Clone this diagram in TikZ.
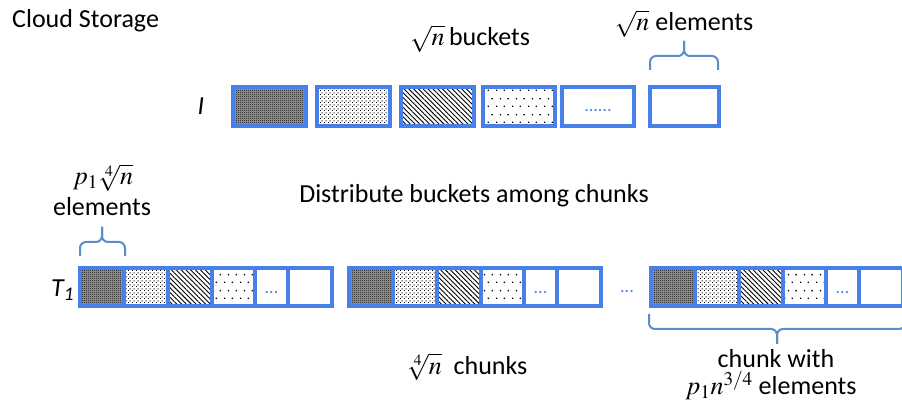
\documentclass[tikz,border=0pt]{standalone}
\usepackage{mathptmx}
\usepackage[no-math]{fontspec}
\setmainfont{Carlito}
\usetikzlibrary{patterns,patterns.meta}
\definecolor{boxblue}{RGB}{72,128,234}
\definecolor{braceblue}{RGB}{91,141,201}
\tikzdeclarepattern{
  name=checker,
  type=uncolored,
  bounding box={(0,0) and (2pt,2pt)},
  tile size={(2pt,2pt)},
  code={
    \pgfpathrectangle{\pgfpointorigin}{\pgfpoint{1pt}{1pt}}
    \pgfpathrectangle{\pgfpoint{1pt}{1pt}}{\pgfpoint{1pt}{1pt}}
    \pgfusepath{fill}
  }
}
\tikzdeclarepattern{
  name=finedots,
  type=uncolored,
  bounding box={(0,0) and (4pt,4pt)},
  tile size={(4pt,4pt)},
  code={
    \pgfpathrectangle{\pgfpointorigin}{\pgfpoint{1.2pt}{1.2pt}}
    \pgfpathrectangle{\pgfpoint{2pt}{2pt}}{\pgfpoint{1.2pt}{1.2pt}}
    \pgfusepath{fill}
  }
}
\tikzdeclarepattern{
  name=sparsedots,
  type=uncolored,
  bounding box={(0,0) and (16pt,16pt)},
  tile size={(16pt,16pt)},
  code={
    \pgfpathrectangle{\pgfpointorigin}{\pgfpoint{1.4pt}{1.4pt}}
    \pgfpathrectangle{\pgfpoint{8pt}{0pt}}{\pgfpoint{1.4pt}{1.4pt}}
    \pgfpathrectangle{\pgfpoint{4pt}{8pt}}{\pgfpoint{1.4pt}{1.4pt}}
    \pgfpathrectangle{\pgfpoint{12pt}{8pt}}{\pgfpoint{1.4pt}{1.4pt}}
    \pgfusepath{fill}
  }
}
\tikzset{
  txt/.style={font=\fontsize{26}{31}\selectfont, inner sep=0pt, text=black},
  cell/.style={draw=boxblue, line width=3.3pt},
  pdark/.style={cell, preaction={fill=black!38}, pattern=checker, pattern color=black},
  pfine/.style={cell, preaction={fill=white}, pattern=finedots, pattern color=black},
  plines/.style={cell, preaction={fill=white}, pattern={Lines[angle=-45,distance=3.4pt,line width=0.9pt]}, pattern color=black},
  psparse/.style={cell, preaction={fill=white}, pattern=sparsedots, pattern color=black},
  pblank/.style={cell, fill=white},
  bluedots/.style={font=\fontsize{18}{20}\selectfont, text=boxblue, inner sep=0pt},
  bracestyle/.style={draw=braceblue, line width=2pt, rounded corners=6pt}
}
\begin{document}
\begin{tikzpicture}[x=1pt,y=-1pt]
\useasboundingbox (0,0) rectangle (902,411);
\fill[white] (0,0) rectangle (902,411);

% texts
\node[txt, anchor=base west] (cloud) at (12,28) {Cloud Storage};
\node[txt, anchor=base] (buckets) at (470,46) {$\sqrt{n}$\,buckets};
\node[txt, anchor=base] (elemtop) at (684,31) {$\sqrt{n}$ elements};
\node[txt, anchor=base] (I) at (201,115) {\itshape I};
\node[txt, anchor=base] (distr) at (474,203) {Distribute buckets among chunks};
\node[txt, anchor=base] (p1) at (103,185) {$p_1\sqrt[4]{n}$};
\node[txt, anchor=base] (elemleft) at (102,216) {elements};
\node[txt, anchor=base west] (T1) at (51,297) {\itshape T\textsubscript{1}};
\node[txt, anchor=base] (chunks) at (467,374) {$\sqrt[4]{n}$\ \ chunks};
\node[txt, anchor=base] (chunkwith) at (776,368) {chunk with};
\node[txt, anchor=base] (pn) at (771,395) {$p_1n^{3/4}$ elements};

% top row of buckets
\path[pdark]  (233,87) rectangle (306,126);
\path[pfine]  (317,87) rectangle (390,126);
\path[plines] (401,87) rectangle (474,126);
\path[psparse](483,87) rectangle (555,126);
\path[pblank] (562,87) rectangle (634,126);
\path[pblank] (650,87) rectangle (719,126);
\node[bluedots] (topdots) at (598,111) {......};

% bottom chunks
\foreach \s/\nm in {80/a,349/b,651/c}{
  \path[pdark]   (\s+0,268)   rectangle (\s+44,306);
  \path[pfine]   (\s+44,268)  rectangle (\s+88,306);
  \path[plines]  (\s+88,268)  rectangle (\s+132,306);
  \path[psparse] (\s+132,268) rectangle (\s+175,306);
  \path[pblank]  (\s+175,268) rectangle (\s+208,306);
  \path[pblank]  (\s+208,268) rectangle (\s+252,306);
  \node[bluedots] (dots\nm) at (\s+191.5,293) {...};
}
\node[bluedots] (middots) at (627,292) {...};

% braces
\coordinate (b1l) at (650,70);
\coordinate (b1r) at (718,70);
\coordinate (b1t) at (684,41);
\draw[bracestyle] (b1l) |- (684,56) -- (b1t);
\draw[bracestyle] (b1r) |- (684,56) -- (b1t);

\coordinate (b2l) at (80,256);
\coordinate (b2r) at (125,256);
\coordinate (b2t) at (102,227);
\draw[bracestyle] (b2l) |- (102,242) -- (b2t);
\draw[bracestyle] (b2r) |- (102,242) -- (b2t);

\coordinate (b3l) at (649,314);
\coordinate (b3r) at (905,314);
\coordinate (b3t) at (777,344);
\draw[bracestyle] (b3l) |- (777,329) -- (b3t);
\draw[bracestyle] (b3r) |- (777,329) -- (b3t);
\end{tikzpicture}
\end{document}
